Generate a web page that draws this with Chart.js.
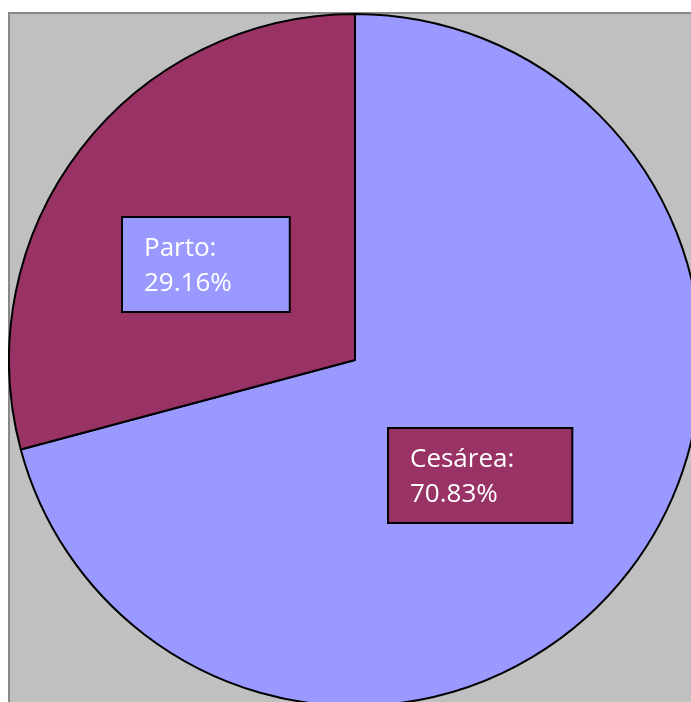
<!DOCTYPE html>
<html>
<head>
<meta charset="utf-8">
<script src="https://cdn.jsdelivr.net/npm/chart.js@4"></script>
<style>
    body { margin: 0; background: #ffffff; overflow: hidden; }
    #frame {
        position: absolute; left: 8px; top: 12px; width: 720px; height: 720px;
        background: #c0c0c0; border-left: 2px solid #888888; border-top: 2px solid #888888;
    }
    #wrap { position: absolute; left: 8px; top: 13px; width: 694px; height: 694px; }
</style>
</head>
<body>
<div id="frame"></div>
<div id="wrap"><canvas id="pieChart" width="694" height="694"></canvas></div>
<script>
// chart values
let categories = ['Cesárea', 'Parto'];
let percentages = [70.83, 29.16];

let sliceColors = ['#9999ff', '#993366'];
// label boxes use the opposite colour of their slice
let boxColors = ['#993366', '#9999ff'];

// draws the Excel-style data label boxes
const labelBoxes = {
    id: 'labelBoxes',
    afterDatasetsDraw(chart) {
        const ctx = chart.ctx;
        const arcs = chart.getDatasetMeta(0).data;
        ctx.save();
        ctx.font = '26px "Open Sans"';
        arcs.forEach((arc, i) => {
            let pos = arc.tooltipPosition();
            let lines = [categories[i] + ':', percentages[i].toFixed(2) + '%'];
            let textW = Math.max(...lines.map(l => ctx.measureText(l).width));
            let w = textW + 80;
            let h = 95;
            let cx = pos.x - 12;
            let cy = pos.y + 10;
            let left = Math.round(cx - w / 2);
            let top = Math.round(cy - h / 2);
            ctx.fillStyle = boxColors[i];
            ctx.fillRect(left, top, w, h);
            ctx.lineWidth = 2;
            ctx.strokeStyle = '#000000';
            ctx.strokeRect(left, top, w, h);
            ctx.fillStyle = '#ffffff';
            ctx.textBaseline = 'alphabetic';
            ctx.fillText(lines[0], left + 22, top + 39);
            ctx.fillText(lines[1], left + 22, top + 74);
        });
        ctx.restore();
    }
};

new Chart(document.getElementById('pieChart'), {
    type: 'pie',
    data: {
        labels: categories,
        datasets: [{
            data: percentages,
            backgroundColor: sliceColors,
            borderColor: '#000000',
            borderWidth: 2,
        }],
    },
    options: {
        responsive: false,
        animation: false,
        layout: { padding: 0 },
        plugins: {
            legend: { display: false },
            tooltip: { enabled: false },
        },
    },
    plugins: [labelBoxes],
});
</script>
</body>
</html>
